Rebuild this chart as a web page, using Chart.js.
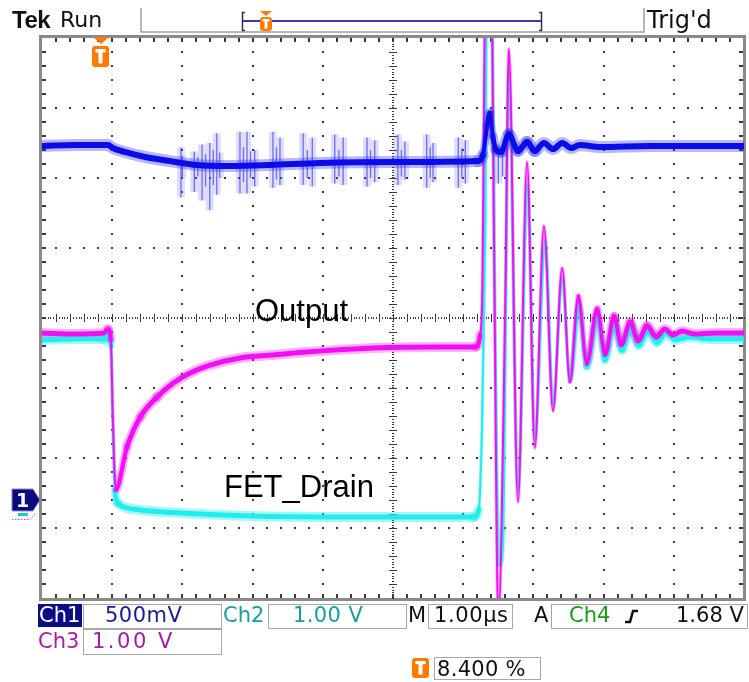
<!DOCTYPE html>
<html><head><meta charset="utf-8">
<script src="https://cdn.jsdelivr.net/npm/chart.js@4/dist/chart.umd.min.js"></script>
<style>
html,body{margin:0;padding:0;background:#fff;}
#wrap{position:relative;width:749px;height:682px;overflow:hidden;background:#fff;}
canvas{position:absolute;left:0;top:0;}
.t{position:absolute;white-space:nowrap;line-height:1;}
.dv{font-family:"DejaVu Sans",sans-serif;}
.lib{font-family:"Liberation Sans",Arial,sans-serif;}
.box{position:absolute;border:1px solid #a8a8a8;box-sizing:border-box;}
</style></head>
<body><div id="wrap">
<canvas id="c" width="749" height="682"></canvas>
<div class="t lib" style="left:12px;top:7.7px;font-size:24px;font-weight:bold;letter-spacing:-0.5px;color:#111">Tek</div>
<div class="t dv" style="left:60px;top:9.4px;font-size:22px;color:#111">Run</div>
<div class="t dv" style="left:647px;top:7.7px;font-size:24px;color:#111">Trig'd</div>
<div class="t lib" style="left:255px;top:294.8px;font-size:31px;color:#000">Output</div>
<div class="t lib" style="left:224px;top:470.8px;font-size:31px;color:#000">FET_Drain</div>
<div class="t dv" style="left:12px;width:21px;text-align:center;top:491px;font-size:19px;font-weight:bold;color:#fff">1</div>
<div style="position:absolute;left:38px;top:604px;width:44px;height:23px;background:#0c0c84"></div>
<div class="t dv" style="left:39px;top:605.2px;font-size:21px;color:#fff">Ch1</div>
<div class="box" style="left:83px;top:604px;width:139px;height:25px"></div>
<div class="t dv" style="left:105px;top:605.2px;font-size:21px;letter-spacing:0.5px;color:#1a1a8e">500mV</div>
<div class="t dv" style="left:223px;top:605.2px;font-size:21px;color:#1b9c9c">Ch2</div>
<div class="box" style="left:268px;top:604px;width:139px;height:25px"></div>
<div class="t dv" style="left:293px;top:605.2px;font-size:21px;letter-spacing:0.4px;color:#1b9c9c">1.00 V</div>
<div class="t dv" style="left:408px;top:605.2px;font-size:21px;color:#111">M</div>
<div class="box" style="left:428px;top:604px;width:85px;height:25px"></div>
<div class="t dv" style="left:434px;top:605.2px;font-size:21px;letter-spacing:0.6px;color:#111">1.00µs</div>
<div class="t dv" style="left:534px;top:605.2px;font-size:21px;color:#111">A</div>
<div class="box" style="left:551px;top:604px;width:197px;height:25px"></div>
<div class="t dv" style="left:569px;top:605.2px;font-size:21px;color:#16a016">Ch4</div>
<div class="t dv" style="left:676px;top:605.2px;font-size:21px;color:#111">1.68 V</div>
<div class="t dv" style="left:38px;top:631.2px;font-size:21px;color:#a51ca5">Ch3</div>
<div class="box" style="left:83px;top:629px;width:139px;height:26px"></div>
<div class="t dv" style="left:92px;top:631.2px;font-size:21px;letter-spacing:2.5px;color:#a51ca5">1.00 V</div>
<div class="box" style="left:434px;top:657px;width:107px;height:23px"></div>
<div class="t dv" style="left:437px;top:659.2px;font-size:21px;letter-spacing:0.3px;color:#111">8.400 %</div>
</div>
<script>
// ---- Data (time in µs, volts per channel) ----
const ch1Time = [0, 0.47, 0.94, 1.01, 1.18, 1.47, 1.82, 2.21, 2.68, 3.25, 3.96, 5.10, 6.21, 6.28, 6.34, 6.38, 6.42, 6.47, 6.54, 6.65, 6.78, 6.91, 7.02, 7.15, 7.28, 7.41, 7.54, 7.66, 7.95, 8.66, 9.37, 10.0];
const ch1Volt = [2.529, 2.536, 2.536, 2.514, 2.486, 2.45, 2.421, 2.393, 2.386, 2.393, 2.407, 2.414, 2.421, 2.464, 2.671, 2.764, 2.60, 2.50, 2.486, 2.614, 2.493, 2.557, 2.493, 2.55, 2.507, 2.55, 2.514, 2.536, 2.521, 2.529, 2.529, 2.529];

const glitchTime = [1.98, 2.00, 2.17, 2.22, 2.28, 2.33, 2.39, 2.44, 2.49, 2.53, 2.82, 2.87, 2.92, 2.97, 3.03, 3.29, 3.34, 3.39, 3.72, 3.78, 3.85, 4.17, 4.23, 4.29, 4.63, 4.68, 4.74, 5.07, 5.12, 5.17, 5.48, 5.53, 5.57, 5.93, 5.98, 6.03, 6.50, 6.56];
const glitchHigh = [2.52, 2.46, 2.49, 2.45, 2.54, 2.47, 2.55, 2.50, 2.62, 2.48, 2.63, 2.52, 2.63, 2.49, 2.50, 2.63, 2.52, 2.59, 2.62, 2.50, 2.59, 2.61, 2.50, 2.59, 2.59, 2.50, 2.57, 2.61, 2.50, 2.56, 2.61, 2.52, 2.55, 2.59, 2.51, 2.57, 2.50, 2.49];
const glitchLow  = [2.16, 2.30, 2.20, 2.31, 2.14, 2.24, 2.07, 2.25, 2.18, 2.30, 2.19, 2.27, 2.19, 2.30, 2.24, 2.23, 2.29, 2.25, 2.25, 2.30, 2.24, 2.26, 2.31, 2.25, 2.24, 2.30, 2.27, 2.25, 2.31, 2.29, 2.23, 2.30, 2.27, 2.23, 2.30, 2.26, 2.26, 2.31];

const ch2Time = [0, 0.47, 0.88, 0.94, 0.98, 1.01, 1.04, 1.08, 1.17, 1.40, 1.97, 2.96, 4.39, 6.15, 6.22, 6.27, 6.31, 6.34, 6.41, 6.45, 6.52, 6.57, 6.65, 6.78, 6.92, 7.02, 7.17, 7.28, 7.41, 7.52, 7.65, 7.76, 7.91, 8.02, 8.15, 8.26, 8.39, 8.50, 8.63, 8.76, 8.89, 9.02, 9.23, 9.52, 10.0];
const ch2Volt = [2.486, 2.50, 2.50, 2.58, 2.414, 1.343, 0.314, 0.157, 0.10, 0.057, 0.014, -0.029, -0.043, -0.043, 0.057, 1.343, 3.771, 7.63, 7.63, 3.057, -0.729, -0.229, 6.30, 0.343, 4.70, 1.057, 3.914, 1.557, 3.371, 1.914, 2.986, 2.10, 2.843, 2.20, 2.743, 2.343, 2.686, 2.414, 2.629, 2.457, 2.586, 2.486, 2.529, 2.50, 2.50];

const ch3Time = [0, 0.47, 0.88, 0.94, 0.98, 1.01, 1.05, 1.21, 1.40, 1.64, 1.87, 2.11, 2.35, 2.82, 3.29, 3.77, 4.72, 5.67, 6.18, 6.24, 6.27, 6.32, 6.40, 6.44, 6.50, 6.60, 6.65, 6.78, 6.91, 7.02, 7.15, 7.28, 7.41, 7.52, 7.64, 7.76, 7.91, 8.02, 8.15, 8.25, 8.38, 8.49, 8.62, 8.75, 8.87, 8.99, 9.12, 9.30, 9.59, 10.0];
const ch3Volt = [2.586, 2.571, 2.586, 2.64, 2.486, 1.343, 0.343, 0.957, 1.386, 1.671, 1.871, 2.014, 2.114, 2.229, 2.271, 2.314, 2.371, 2.386, 2.386, 2.557, 3.057, 7.63, 7.63, 3.771, -1.514, 3.057, 6.643, 0.171, 5.029, 0.943, 4.114, 1.471, 3.514, 1.886, 3.114, 2.143, 2.929, 2.271, 2.829, 2.414, 2.743, 2.471, 2.686, 2.529, 2.643, 2.557, 2.614, 2.571, 2.586, 2.586];

// screen: 10 div x 1 µs, Ch1 500 mV/div, Ch2/Ch3 1 V/div
const timeRange = [0, 10];
const ch1Range = [-0.7, 3.3];
const ch23Range = [-1.2, 6.8];

const toXY = (ts, vs) => ts.map((t, i) => ({x: t, y: vs[i]}));
const glitchXY = [];
glitchTime.forEach((t, i) => { glitchXY.push({x: t, y: glitchHigh[i]}, {x: t, y: glitchLow[i]}, {x: t, y: null}); });

function segW(base, thin) {
  return c => {
    const dx = Math.abs(c.p1.x - c.p0.x), dy = Math.abs(c.p1.y - c.p0.y);
    const s = dx > 0 ? dy / dx : 99;
    if (s <= 1) return base;
    if (s >= 12) return thin;
    return base - (base - thin) * (s - 1) / 11;
  };
}

function tIcon(ctx, x, y, w, h) {
  ctx.fillStyle = '#ff7a00';
  ctx.beginPath();
  const r = 3;
  ctx.moveTo(x + r, y); ctx.lineTo(x + w - r, y); ctx.quadraticCurveTo(x + w, y, x + w, y + r);
  ctx.lineTo(x + w, y + h - r); ctx.quadraticCurveTo(x + w, y + h, x + w - r, y + h);
  ctx.lineTo(x + r, y + h); ctx.quadraticCurveTo(x, y + h, x, y + h - r);
  ctx.lineTo(x, y + r); ctx.quadraticCurveTo(x, y, x + r, y); ctx.fill();
  ctx.fillStyle = '#fff';
  ctx.fillRect(x + w * 0.2, y + h * 0.15, w * 0.6, h * 0.16);
  ctx.fillRect(x + w * 0.5 - w * 0.12, y + h * 0.15, w * 0.24, h * 0.68);
}

const gratPlugin = {
  id: 'grat',
  beforeDatasetsDraw(chart) {
    const {ctx, scales} = chart;
    const xs = scales.x, ys = scales.yCh23;
    const X = v => xs.getPixelForValue(v);
    const Y = v => ys.getPixelForValue(v);
    const y0 = ch23Range[0];
    ctx.save();
    ctx.strokeStyle = '#8a8a8a'; ctx.lineWidth = 3;
    ctx.strokeRect(40.5, 36.5, 704, 563);
    ctx.fillStyle = '#3a3a3a';
    for (let j = 1; j < 50; j++) {
      const x = Math.round(X(j / 5));
      ctx.fillRect(x - 1, 38, 2, 4);
      ctx.fillRect(x - 1, 594, 2, 4);
    }
    for (let j = 1; j < 40; j++) {
      const y = Math.round(Y(y0 + j / 5));
      ctx.fillRect(42, y - 1, 4, 2);
      ctx.fillRect(739, y - 1, 4, 2);
    }
    for (let k = 1; k < 10; k++) {
      if (k === 5) continue;
      const x = Math.round(X(k));
      for (let j = 1; j < 40; j++) { const y = Math.round(Y(y0 + j / 5)); ctx.fillRect(x - 1, y - 1, 2, 2); }
    }
    for (let k = 1; k < 8; k++) {
      if (k === 4) continue;
      const y = Math.round(Y(y0 + k));
      for (let j = 1; j < 50; j++) { const x = Math.round(X(j / 5)); ctx.fillRect(x - 1, y - 1, 2, 2); }
    }
    const xc = Math.round(X(5)), yc = Math.round(Y(y0 + 4));
    for (let j = 0; j <= 200; j++) { const y = Math.round(Y(y0 + j / 25)); ctx.fillRect(xc - 1, y, 2, 1); }
    for (let j = 0; j <= 250; j++) { const x = Math.round(X(j / 25)); ctx.fillRect(x, yc - 1, 1, 2); }
    for (let j = 1; j < 40; j++) { const y = Math.round(Y(y0 + j / 5)); ctx.fillRect(xc - 4, y, 8, 1); }
    for (let j = 1; j < 50; j++) { const x = Math.round(X(j / 5)); ctx.fillRect(x, yc - 4, 1, 8); }
    ctx.restore();
  },
  afterDraw(chart) {
    const ctx = chart.ctx;
    ctx.save();
    ctx.strokeStyle = '#a0a0a0'; ctx.lineWidth = 1.5;
    ctx.beginPath(); ctx.moveTo(141, 8); ctx.lineTo(141, 32); ctx.lineTo(644, 32); ctx.lineTo(644, 8); ctx.stroke();
    ctx.strokeStyle = '#3c3cb4'; ctx.lineWidth = 2;
    ctx.beginPath(); ctx.moveTo(243, 21); ctx.lineTo(541, 21); ctx.stroke();
    ctx.strokeStyle = '#333'; ctx.lineWidth = 1.5;
    ctx.beginPath(); ctx.moveTo(245, 12.5); ctx.lineTo(242.5, 12.5); ctx.lineTo(242.5, 30.5); ctx.lineTo(245, 30.5); ctx.stroke();
    ctx.beginPath(); ctx.moveTo(539, 12.5); ctx.lineTo(541.5, 12.5); ctx.lineTo(541.5, 30.5); ctx.lineTo(539, 30.5); ctx.stroke();
    ctx.fillStyle = '#ff7a00';
    ctx.beginPath(); ctx.moveTo(260, 11); ctx.lineTo(272, 11); ctx.lineTo(266, 16); ctx.fill();
    tIcon(ctx, 260, 17, 12, 14);
    ctx.fillStyle = '#ff7a00';
    ctx.beginPath(); ctx.moveTo(93, 37); ctx.lineTo(109, 37); ctx.lineTo(101, 44); ctx.fill();
    tIcon(ctx, 92, 46, 17, 21);
    tIcon(ctx, 412, 658, 17, 20);
    ctx.strokeStyle = '#111'; ctx.lineWidth = 2.5;
    ctx.beginPath(); ctx.moveTo(625, 622); ctx.lineTo(630, 622); ctx.lineTo(633, 611); ctx.lineTo(638, 611); ctx.stroke();
    ctx.fillStyle = '#0a0a7e'; ctx.strokeStyle = '#8a8ad0'; ctx.lineWidth = 1;
    ctx.beginPath(); ctx.moveTo(12, 489); ctx.lineTo(33, 489); ctx.lineTo(40, 500); ctx.lineTo(33, 511); ctx.lineTo(12, 511); ctx.closePath(); ctx.fill(); ctx.stroke();
    ctx.fillStyle = '#20c8c8'; ctx.fillRect(18, 513, 10, 3);
    ctx.strokeStyle = '#e040e0'; ctx.setLineDash([1.5, 1.5]);
    ctx.beginPath(); ctx.moveTo(12, 519.5); ctx.lineTo(30, 519.5); ctx.lineTo(35, 514); ctx.stroke();
    ctx.restore();
  }
};

const common = {pointRadius: 0, cubicInterpolationMode: 'monotone', clip: 0, fill: false, borderCapStyle: 'round', borderJoinStyle: 'round'};

new Chart(document.getElementById('c'), {
  type: 'line',
  data: {datasets: [
    Object.assign({label: 'Ch1', data: toXY(ch1Time, ch1Volt), yAxisID: 'yCh1', borderColor: '#0c0ce8', borderWidth: 6, segment: {borderWidth: segW(6, 2.5)}, order: 0}, common),
    Object.assign({label: 'Ch1 halo', data: toXY(ch1Time, ch1Volt), yAxisID: 'yCh1', borderColor: 'rgba(40,40,255,0.33)', borderWidth: 12, segment: {borderWidth: segW(12, 5)}, order: 1}, common),
    Object.assign({label: 'Ch1 glitch', data: glitchXY, yAxisID: 'yCh1', borderColor: 'rgba(70,70,235,0.75)', borderWidth: 1.3, spanGaps: false, cubicInterpolationMode: 'default', tension: 0, order: 2}, {pointRadius: 0, clip: 0}),
    Object.assign({label: 'Ch1 glitch halo', data: glitchXY, yAxisID: 'yCh1', borderColor: 'rgba(90,90,240,0.2)', borderWidth: 8, spanGaps: false, cubicInterpolationMode: 'default', tension: 0, order: 3}, {pointRadius: 0, clip: 0}),
    Object.assign({label: 'Output', data: toXY(ch3Time, ch3Volt), yAxisID: 'yCh23', borderColor: '#f00ff0', borderWidth: 5, segment: {borderWidth: segW(5, 2)}, order: 4}, common),
    Object.assign({label: 'FET_Drain', data: toXY(ch2Time, ch2Volt), yAxisID: 'yCh23', borderColor: '#22ecec', borderWidth: 5, segment: {borderWidth: segW(5, 2)}, order: 5}, common),
    Object.assign({label: 'Output halo', data: toXY(ch3Time, ch3Volt), yAxisID: 'yCh23', borderColor: 'rgba(245,0,245,0.3)', borderWidth: 10, segment: {borderWidth: segW(10, 3.5)}, order: 6}, common),
    Object.assign({label: 'FET_Drain halo', data: toXY(ch2Time, ch2Volt), yAxisID: 'yCh23', borderColor: 'rgba(0,235,235,0.35)', borderWidth: 10, segment: {borderWidth: segW(10, 3.5)}, order: 7}, common)
  ]},
  options: {
    responsive: false, animation: false, devicePixelRatio: 1, events: [],
    layout: {padding: {left: 42, right: 5, top: 38, bottom: 84}},
    plugins: {legend: {display: false}, tooltip: {enabled: false}},
    scales: {
      x: {type: 'linear', min: timeRange[0], max: timeRange[1], display: false},
      yCh1: {type: 'linear', min: ch1Range[0], max: ch1Range[1], display: false},
      yCh23: {type: 'linear', min: ch23Range[0], max: ch23Range[1], display: false}
    }
  },
  plugins: [gratPlugin]
});
</script>
</body></html>
